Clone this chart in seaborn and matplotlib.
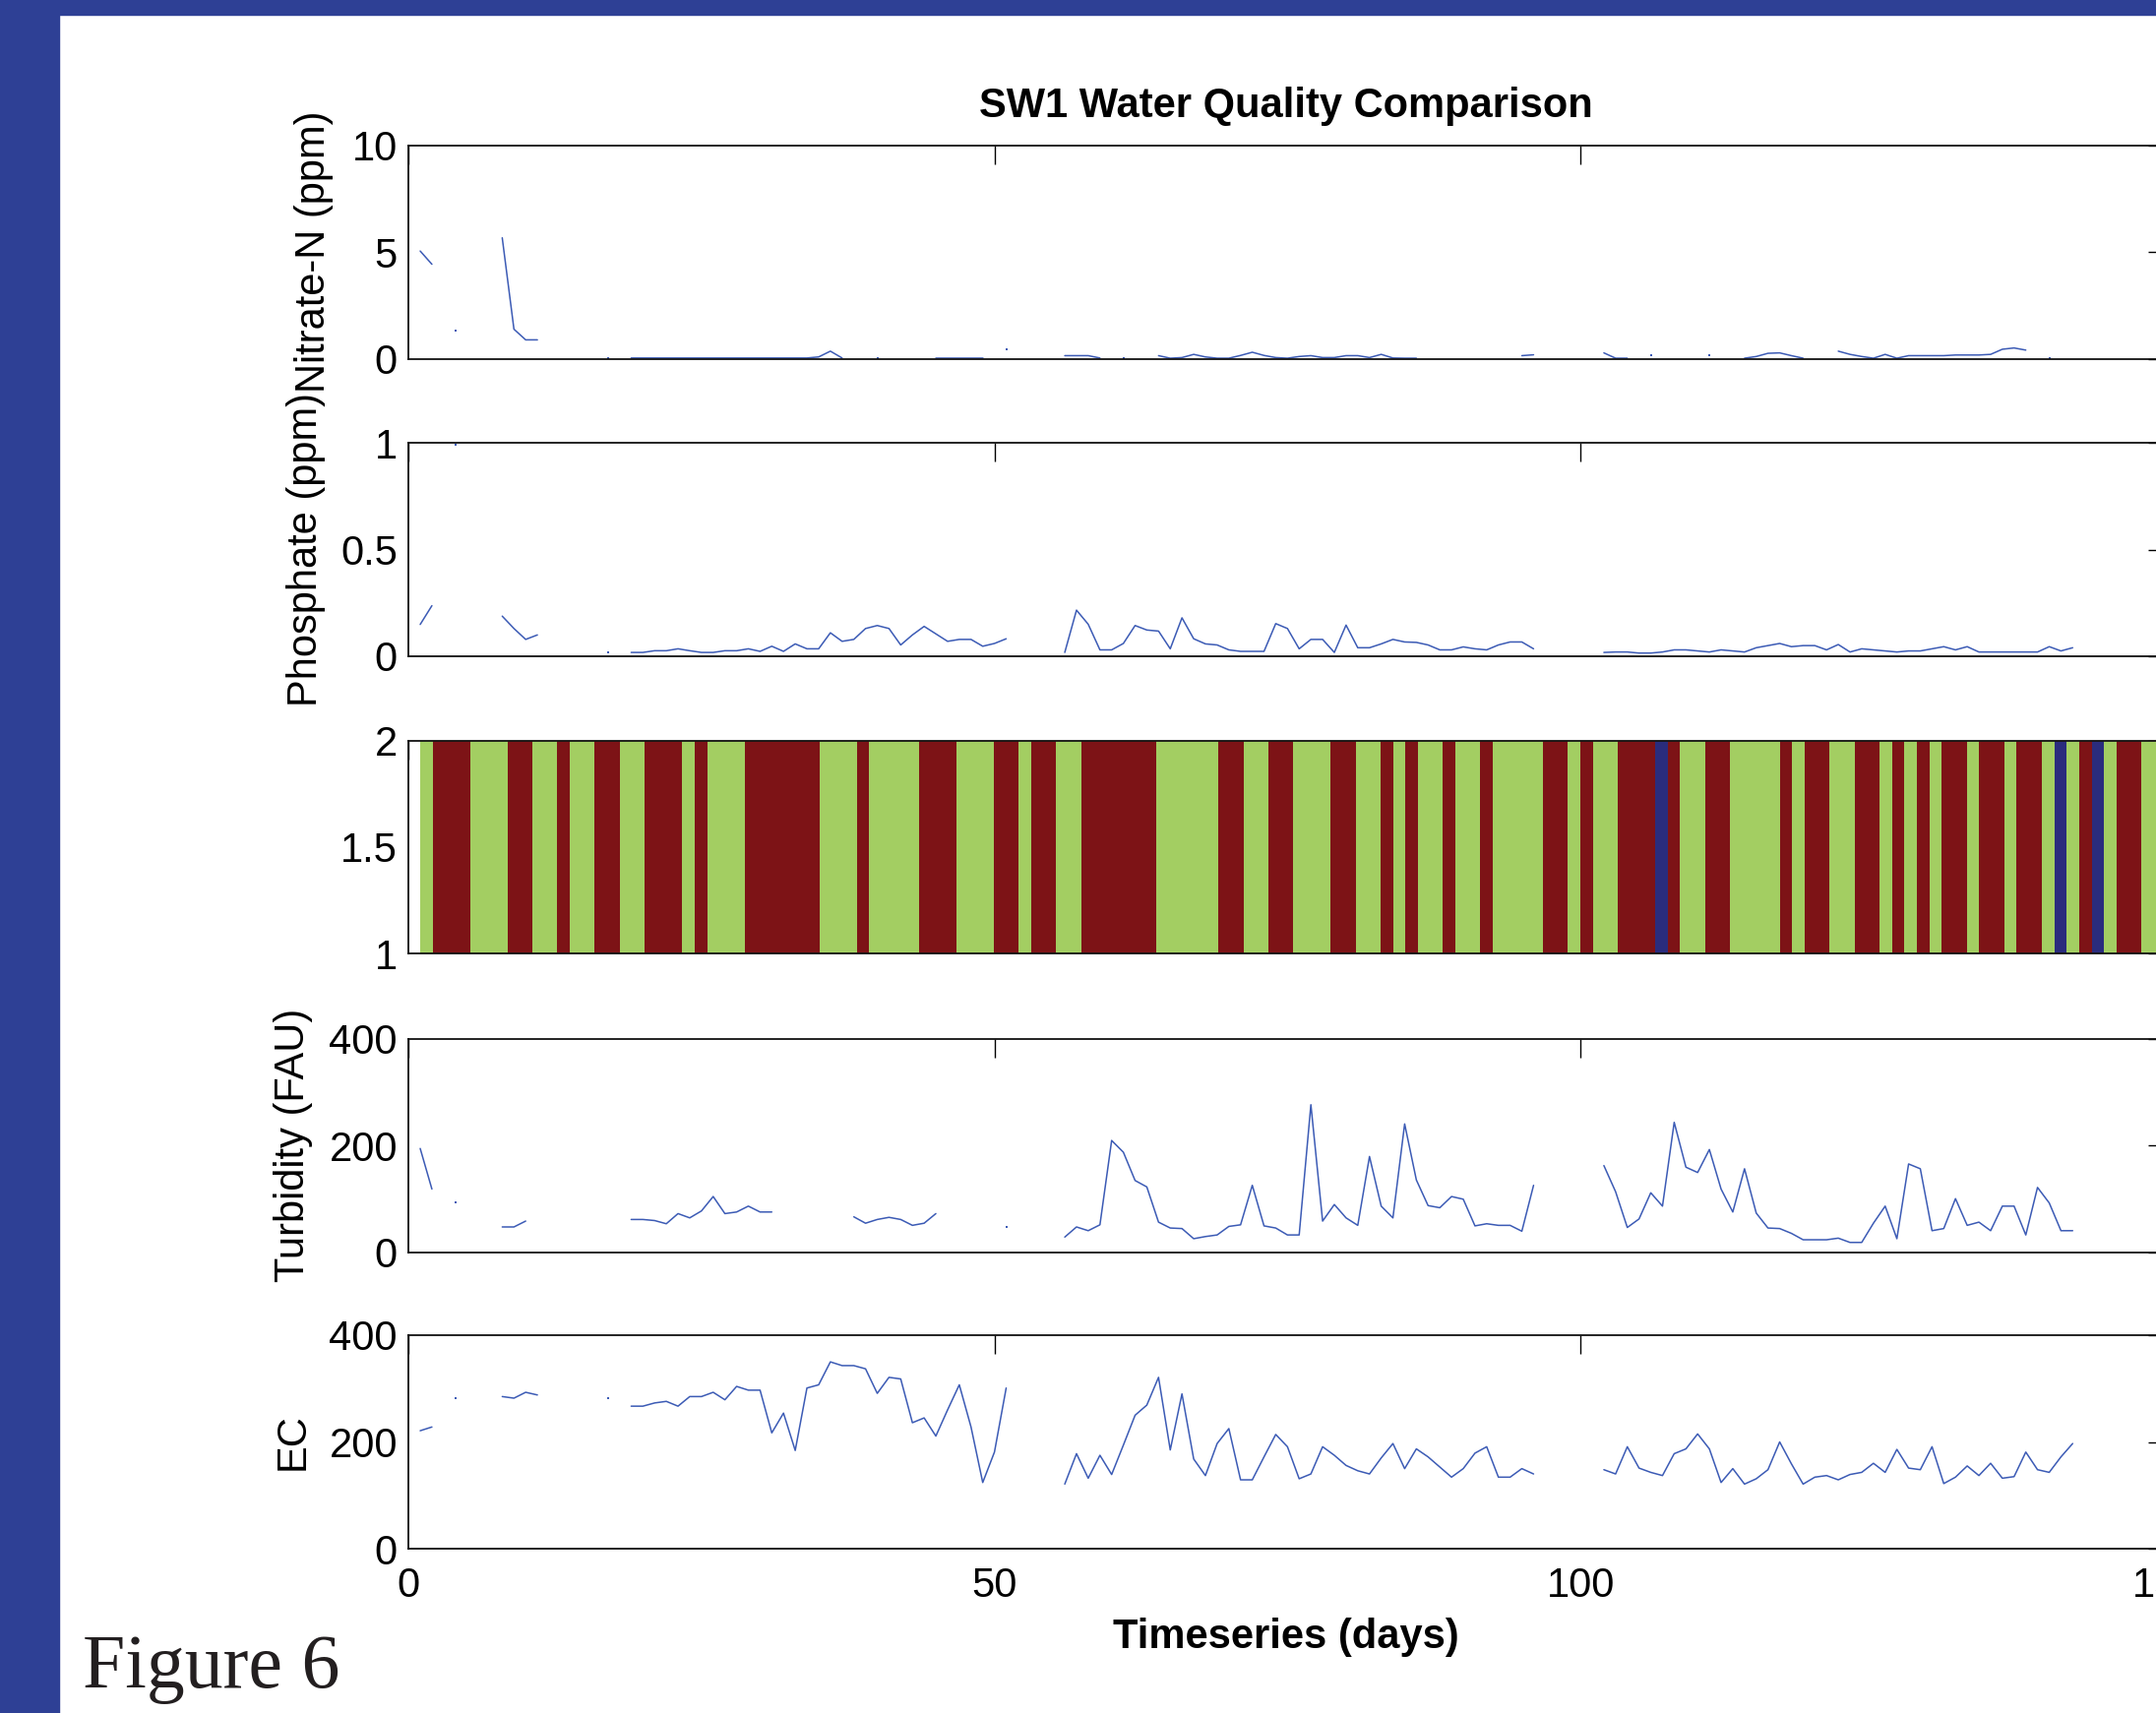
import matplotlib
matplotlib.use("Agg")
import matplotlib.pyplot as plt
from matplotlib.patches import Rectangle
from matplotlib.ticker import FuncFormatter
import numpy as np
import pandas as pd
import seaborn as sns

nan = np.nan

# daily samples, day 1 .. 142
days = list(range(1, 143))

nitrate = [
    5.04, 4.42, nan, 1.33, nan, nan, nan, 5.66, 1.38, 0.88,
    0.88, nan, nan, nan, nan, nan, 0.03, nan, 0.03, 0.03,
    0.03, 0.03, 0.03, 0.03, 0.03, 0.03, 0.03, 0.03, 0.03, 0.03,
    0.03, 0.03, 0.03, 0.03, 0.08, 0.35, 0.03, nan, nan, 0.03,
    nan, nan, nan, nan, 0.03, 0.03, 0.03, 0.03, 0.03, nan,
    0.44, nan, nan, nan, nan, 0.14, 0.14, 0.14, 0.03, nan,
    0.02, nan, nan, 0.14, 0.02, 0.05, 0.2, 0.08, 0.02, 0.02,
    0.15, 0.3, 0.15, 0.05, 0.02, 0.1, 0.14, 0.05, 0.05, 0.14,
    0.14, 0.05, 0.2, 0.03, 0.02, 0.02, nan, nan, nan, nan,
    nan, nan, nan, nan, 0.14, 0.18, nan, nan, nan, nan,
    nan, 0.27, 0.02, 0.02, nan, 0.14, nan, nan, nan, nan,
    0.14, nan, nan, 0.02, 0.1, 0.25, 0.27, 0.14, 0.02, nan,
    nan, 0.35, 0.2, 0.1, 0.02, 0.2, 0.02, 0.14, 0.14, 0.14,
    0.14, 0.17, 0.17, 0.17, 0.2, 0.44, 0.5, 0.4, nan, 0.02,
    nan, nan,
]

phosphate = [
    0.149, 0.237, nan, 0.99, nan, nan, nan, 0.188, 0.13, 0.079,
    0.1, nan, nan, nan, nan, nan, 0.018, nan, 0.018, 0.018,
    0.026, 0.026, 0.035, 0.026, 0.018, 0.018, 0.026, 0.026, 0.035, 0.023,
    0.047, 0.023, 0.058, 0.035, 0.035, 0.11, 0.07, 0.079, 0.13, 0.144,
    0.13, 0.053, 0.1, 0.14, 0.105, 0.07, 0.079, 0.079, 0.047, 0.06,
    0.082, nan, nan, nan, nan, 0.018, 0.216, 0.15, 0.03, 0.03,
    0.06, 0.144, 0.123, 0.118, 0.035, 0.18, 0.082, 0.058, 0.053, 0.03,
    0.023, 0.023, 0.023, 0.153, 0.13, 0.035, 0.079, 0.079, 0.018, 0.146,
    0.04, 0.04, 0.058, 0.079, 0.067, 0.065, 0.053, 0.03, 0.03, 0.044,
    0.035, 0.03, 0.053, 0.067, 0.067, 0.035, nan, nan, nan, nan,
    nan, 0.018, 0.02, 0.02, 0.015, 0.015, 0.02, 0.03, 0.03, 0.025,
    0.02, 0.03, 0.025, 0.02, 0.04, 0.05, 0.06, 0.045, 0.05, 0.05,
    0.03, 0.055, 0.02, 0.035, 0.03, 0.025, 0.02, 0.025, 0.025, 0.035,
    0.045, 0.03, 0.045, 0.02, 0.02, 0.02, 0.02, 0.02, 0.02, 0.045,
    0.025, 0.04,
]

turbidity = [
    194, 118, nan, 94, nan, nan, nan, 47, 47, 58,
    nan, nan, nan, nan, nan, nan, nan, nan, 61, 61,
    59, 53, 72, 64, 77, 104, 72, 75, 86, 75,
    75, nan, nan, nan, nan, nan, nan, 66, 54, 61,
    65, 61, 50, 54, 72, nan, nan, nan, nan, nan,
    47, nan, nan, nan, nan, 28, 47, 40, 51, 209,
    187, 134, 122, 56, 45, 44, 25, 29, 32, 48,
    51, 125, 49, 45, 32, 32, 276, 58, 89, 64,
    50, 179, 86, 64, 240, 135, 87, 83, 104, 99,
    49, 53, 50, 50, 39, 125, nan, nan, nan, nan,
    nan, 162, 113, 46, 62, 111, 86, 243, 159, 149,
    192, 118, 75, 156, 73, 45, 44, 35, 23, 23,
    23, 26, 18, 18, 54, 86, 25, 165, 156, 40,
    44, 100, 50, 56, 40, 86, 86, 32, 121, 92,
    40, 40,
]

ec = [
    221, 228, nan, 282, nan, nan, nan, 285, 282, 293,
    288, nan, nan, nan, nan, nan, 282, nan, 267, 267,
    273, 276, 267, 285, 285, 293, 279, 304, 297, 297,
    217, 254, 184, 301, 307, 350, 343, 343, 337, 291,
    321, 318, 236, 245, 211, 260, 307, 228, 124, 181,
    301, nan, nan, nan, nan, 121, 178, 132, 175, 139,
    194, 250, 269, 321, 185, 290, 168, 137, 197, 225,
    129, 129, 172, 214, 191, 131, 140, 191, 175, 156,
    146, 140, 170, 197, 150, 187, 172, 153, 134, 150,
    179, 191, 134, 134, 150, 140, nan, nan, nan, nan,
    nan, 148, 140, 191, 151, 143, 137, 178, 187, 215,
    187, 124, 150, 121, 131, 148, 200, 159, 121, 134,
    137, 129, 139, 143, 160, 143, 186, 151, 148, 191,
    122, 134, 155, 137, 160, 132, 135, 181, 148, 143,
    172, 197,
]

# quality class strip, run-length coded (G / R / B), 140 samples over days 1-150
strip_class = [
    "G", "R", "G", "R", "G", "R", "G", "R", "G", "R",
    "G", "R", "G", "R", "G", "R", "G", "R", "G", "R",
    "G", "R", "G", "R", "G", "R", "G", "R", "G", "R",
    "G", "R", "G", "R", "G", "R", "G", "R", "G", "R",
    "G", "R", "G", "R", "B", "R", "G", "R", "G", "R",
    "G", "R", "G", "R", "G", "R", "G", "R", "G", "R",
    "G", "R", "G", "R", "G", "B", "G", "R", "B", "G",
    "R", "G",
]
strip_runs = [
    1, 3, 3, 2, 2, 1, 2, 2, 2, 3,
    1, 1, 3, 6, 3, 1, 4, 3, 3, 2,
    1, 2, 2, 6, 5, 2, 2, 2, 3, 2,
    2, 1, 1, 1, 2, 1, 2, 1, 4, 2,
    1, 1, 2, 3, 1, 1, 2, 2, 4, 1,
    1, 2, 2, 2, 1, 1, 1, 1, 1, 2,
    1, 2, 1, 2, 1, 1, 1, 1, 1, 1,
    2, 2,
]
strip_span = (1, 150)
strip_colors = {"G": "#A3CE62", "R": "#7D1316", "B": "#2A2C7D"}

panel_labels = ["Nitrate-N (ppm)", "Phosphate (ppm)", None, "Turbidity (FAU)", "EC"]
panel_ylims = [(0, 10), (0, 1), (1, 2), (0, 400), (0, 400)]
panel_yticks = [[0, 5, 10], [0, 0.5, 1], [1, 1.5, 2], [0, 200, 400], [0, 200, 400]]
xticks = [0, 50, 100, 150]

sns.set_style("white")
plt.rcParams["font.family"] = ["Liberation Sans", "DejaVu Sans"]
plt.rcParams["text.color"] = "black"
plt.rcParams["xtick.color"] = "black"
plt.rcParams["ytick.color"] = "black"

line_color = "#3C5BB5"
frame_blue = "#2E4095"
fs = 30

W, H = 2191, 1741
fig = plt.figure(figsize=(W / 100, H / 100), dpi=100)
fig.patches.append(Rectangle((0, 0), 60 / W, 1, transform=fig.transFigure,
                             color=frame_blue, zorder=0))
fig.patches.append(Rectangle((0, 1 - 15 / H), 1, 15 / H, transform=fig.transFigure,
                             color=frame_blue, zorder=0))

left_px, right_px = 415.1, 2201.6
tops = [147.5, 450, 752.5, 1055.5, 1357]
height_px = 217
label_x = [319, 311, None, 298, 298]
series = [nitrate, phosphate, None, turbidity, ec]


def to_frame(values):
    df = pd.DataFrame({"day": days, "value": values})
    gap = df["value"].isna()
    df["segment"] = gap.cumsum()
    df = df[~gap].copy()
    df["n"] = df.groupby("segment")["day"].transform("size")
    return df


for i in range(5):
    ax = fig.add_axes([left_px / W, 1 - (tops[i] + height_px) / H,
                       (right_px - left_px) / W, height_px / H])
    if series[i] is not None:
        df = to_frame(series[i])
        sns.lineplot(data=df, x="day", y="value", units="segment", estimator=None,
                     color=line_color, lw=1.1, ax=ax)
        singles = df[df["n"] == 1]
        sns.scatterplot(data=singles, x="day", y="value", s=4, marker="s",
                        color=line_color, linewidth=0, ax=ax)
    else:
        w = (strip_span[1] - strip_span[0]) / sum(strip_runs)
        starts = strip_span[0] + w * np.concatenate([[0], np.cumsum(strip_runs)[:-1]])
        ax.bar(starts, 1, width=w * np.array(strip_runs), bottom=1, align="edge",
               color=[strip_colors[c] for c in strip_class], linewidth=0)
        ax.set_axisbelow(True)

    ax.set_xlim(0, 150)
    ax.set_ylim(*panel_ylims[i])
    ax.set_xticks(xticks)
    ax.set_yticks(panel_yticks[i])
    ax.yaxis.set_major_formatter(FuncFormatter(lambda v, p: f"{v:g}"))
    ax.tick_params(direction="in", length=13.7, width=1.0, top=True, right=True,
                   labelsize=fs)
    ax.tick_params(axis="y", pad=8)
    ax.tick_params(axis="x", pad=13, labelbottom=(i == 4))
    ax.set_xlabel("")
    ax.set_ylabel("")
    for sp in ax.spines.values():
        sp.set_visible(True)
        sp.set_linewidth(1.3)
        sp.set_color("#111111")
    if panel_labels[i]:
        fig.text(label_x[i] / W, 1 - (tops[i] + height_px / 2) / H, panel_labels[i],
                 rotation=90, ha="center", va="center", fontsize=fs)

fig.text(1307 / W, 1 - 119 / H, "SW1 Water Quality Comparison", ha="center",
         va="baseline", fontsize=fs, fontweight="bold")
fig.text(1307 / W, 1 - 1675 / H, "Timeseries (days)", ha="center",
         va="baseline", fontsize=fs, fontweight="bold")
fig.text(84 / W, 1 - 1715 / H, "Figure 6", family=["Liberation Serif", "DejaVu Serif"],
         fontsize=56, color="#231F20", ha="left", va="baseline")

fig.savefig("out.png", dpi=100)
